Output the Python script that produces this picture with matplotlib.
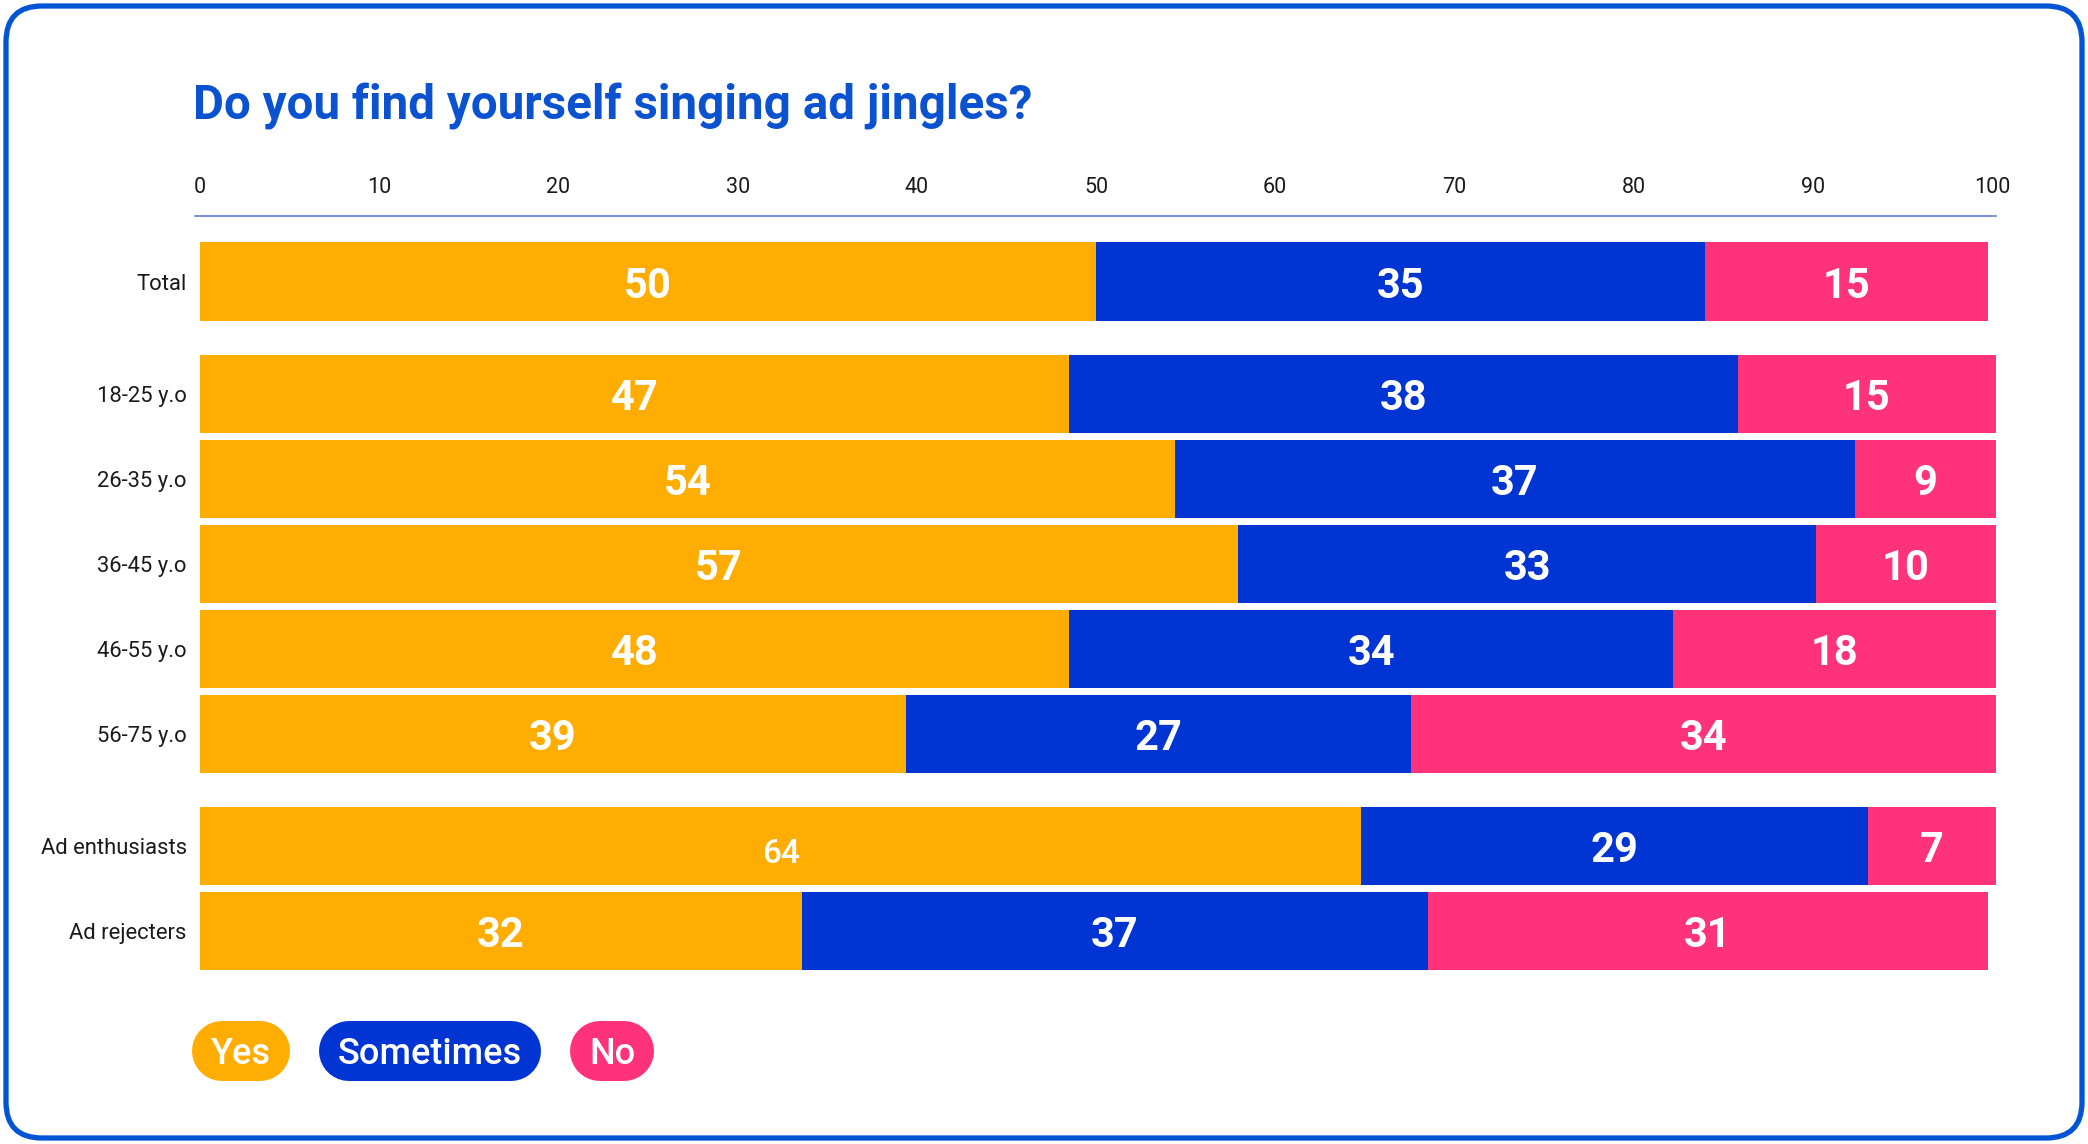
import numpy as np
import matplotlib
matplotlib.use("Agg")
import matplotlib.pyplot as plt
from matplotlib.patches import FancyBboxPatch
from matplotlib.lines import Line2D
from matplotlib.transforms import IdentityTransform

plt.rcParams['font.family'] = ['Roboto', 'DejaVu Sans']

# data (segment widths in %, labels as printed)
categories = ["Total", "18-25 y.o", "26-35 y.o", "36-45 y.o", "46-55 y.o",
              "56-75 y.o", "Ad enthusiasts", "Ad rejecters"]
groups = [1, 5, 2]          # rows per block, blocks separated by a gap
series = ["Yes", "Sometimes", "No"]
yes = [50.0, 48.5, 54.4, 57.9, 48.5, 39.4, 64.8, 33.6]
sometimes = [34.0, 37.3, 37.95, 32.3, 33.7, 28.2, 28.3, 34.9]
no = [15.8, 14.4, 7.85, 10.0, 18.0, 32.6, 7.1, 31.3]
yes_lbl = [50, 47, 54, 57, 48, 39, 64, 32]
sometimes_lbl = [35, 38, 37, 33, 34, 27, 29, 37]
no_lbl = [15, 15, 9, 10, 18, 34, 7, 31]

colors = ["#FFAD00", "#0035D3", "#FF327A"]
title_blue = "#0A52D0"

W, H = 2088, 1144
fig = plt.figure(figsize=(W / 100, H / 100), dpi=100)
fig.patch.set_facecolor("white")

# rounded frame
frame = FancyBboxPatch((6, 6), W - 12, H - 12,
                       boxstyle="round,pad=0,rounding_size=36",
                       transform=IdentityTransform(), facecolor="none",
                       edgecolor="#0055D4", linewidth=3.8, zorder=10)
fig.patches.append(frame)

fig.text(193 / W, 1 - 119 / H, "Do you find yourself singing ad jingles?",
         fontsize=34.3, fontweight="bold", color=title_blue, va="baseline", ha="left")

# row positions: 1 unit per row, extra gap between blocks
gap = 0.32
pos = []
y = 0.0
for gi, n in enumerate(groups):
    for k in range(n):
        pos.append(y)
        y += 1
    y += gap
pos = np.array(pos)

ax_top, ax_bot = 216, 985
row_px = 85
y_top = (ax_top - 281.5) / row_px
y_bot = (ax_bot - 281.5) / row_px
ax = fig.add_axes([195 / W, 1 - ax_bot / H, 1801 / W, (ax_bot - ax_top) / H])
ax.set_xlim(-0.28, 100.22)
ax.set_ylim(y_bot, y_top)

vals = [yes, sometimes, no]
lbls = [yes_lbl, sometimes_lbl, no_lbl]
left = np.zeros(len(categories))
for si in range(3):
    v = np.array(vals[si])
    ax.barh(pos, v, left=left, height=0.92, color=colors[si], linewidth=0)
    for i in range(len(categories)):
        cx = left[i] + v[i] / 2
        if categories[i] == "Ad enthusiasts" and si == 0:
            ax.text(cx, pos[i] + 0.06, str(lbls[si][i]), color="white",
                    fontsize=24, fontweight="medium", ha="center", va="center_baseline")
        else:
            ax.text(cx, pos[i], str(lbls[si][i]), color="white",
                    fontsize=30, fontweight="bold", ha="center", va="center_baseline")
    left += v

ax.set_yticks(pos)
ax.set_yticklabels(categories, fontsize=15.8, color="#1a1a1a")
ax.set_xticks(np.arange(0, 101, 10))
ax.xaxis.tick_top()
ax.tick_params(axis="x", length=0, pad=13, labelsize=15.5, labelcolor="#1a1a1a")
ax.tick_params(axis="y", length=0, pad=6)
for s in ["left", "right", "bottom"]:
    ax.spines[s].set_visible(False)
ax.spines["top"].set_color("#4F70D6")
ax.spines["top"].set_linewidth(1.1)
ax.set_facecolor("none")

# legend pills: thick lines with round caps
x0 = 192
pill_h = 60
pill_yc = H - 1051
renderer = fig.canvas.get_renderer()
for si, name in enumerate(series):
    t = fig.text(0, 0, name, fontsize=26, fontweight="medium", color="white",
                 ha="center", va="center_baseline", zorder=5)
    tw = t.get_window_extent(renderer).width
    pw = max(tw + 38, pill_h)
    r = pill_h / 2
    pill = Line2D([x0 + r, x0 + pw - r], [pill_yc, pill_yc],
                  transform=IdentityTransform(), color=colors[si],
                  linewidth=pill_h * 72 / 100, solid_capstyle="round", zorder=4)
    fig.lines.append(pill)
    t.set_position(((x0 + pw / 2) / W, pill_yc / H))
    x0 += pw + 29

fig.savefig("out.png", dpi=100)
